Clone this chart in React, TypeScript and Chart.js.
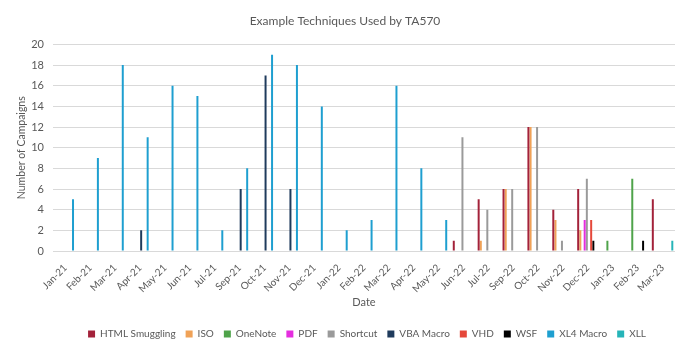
import React, { useEffect, useRef } from "react";
import { Chart, registerables } from "chart.js";

Chart.register(...registerables);

const categories = ["Jan-21","Feb-21","Mar-21","Apr-21","May-21","Jun-21","Jul-21","Sep-21","Oct-21","Nov-21","Dec-21","Jan-22","Feb-22","Mar-22","Apr-22","May-22","Jun-22","Jul-22","Sep-22","Oct-22","Nov-22","Dec-22","Jan-23","Feb-23","Mar-23"];

const N = null;
const htmlSmuggling = [N,N,N,N,N,N,N,N,N,N,N,N,N,N,N,N,1,5,6,12,4,6,N,N,5];
const iso =           [N,N,N,N,N,N,N,N,N,N,N,N,N,N,N,N,N,1,6,12,3,2,N,N,N];
const oneNote =       [N,N,N,N,N,N,N,N,N,N,N,N,N,N,N,N,N,N,N,N,N,N,1,7,N];
const pdf =           [N,N,N,N,N,N,N,N,N,N,N,N,N,N,N,N,N,N,N,N,N,3,N,N,N];
const shortcut =      [N,N,N,N,N,N,N,N,N,N,N,N,N,N,N,N,11,4,6,12,1,7,N,N,N];
const vbaMacro =      [N,N,N,2,N,N,N,6,17,6,N,N,N,N,N,N,N,N,N,N,N,N,N,N,N];
const vhd =           [N,N,N,N,N,N,N,N,N,N,N,N,N,N,N,N,N,N,N,N,N,3,N,N,N];
const wsf =           [N,N,N,N,N,N,N,N,N,N,N,N,N,N,N,N,N,N,N,N,N,1,N,1,N];
const xl4Macro =      [5,9,18,11,16,15,2,8,19,18,14,2,3,16,8,3,N,N,N,N,N,N,N,N,N];
const xll =           [N,N,N,N,N,N,N,N,N,N,N,N,N,N,N,N,N,N,N,N,N,N,N,N,1];

const seriesNames = ["HTML Smuggling","ISO","OneNote","PDF","Shortcut","VBA Macro","VHD","WSF","XL4 Macro","XLL"];
const seriesData = [htmlSmuggling, iso, oneNote, pdf, shortcut, vbaMacro, vhd, wsf, xl4Macro, xll];
const seriesColors = ["#A3223A","#F0A257","#4FA34A","#E52EDF","#9A9A9A","#1F3B5C","#E5483A","#000000","#1E9FD0","#26B4B8"];

const yTicks = [0,2,4,6,8,10,12,14,16,18,20];

const FONT = "Lato, 'Open Sans', sans-serif";
const TXT = "#595959";

const legendShift = {
  id: "legendShift",
  afterLayout(chart: any) {
    if (chart.legend) {
      chart.legend.left += 22;
      chart.legend.right += 22;
    }
  },
};

export default function App() {
  const ref = useRef<HTMLCanvasElement | null>(null);
  useEffect(() => {
    document.body.style.margin = "0";
    const ctx = ref.current!.getContext("2d")!;
    const chart = new Chart(ctx, {
      type: "bar",
      data: {
        labels: categories,
        datasets: seriesNames.map((name, i) => ({
          label: name,
          data: seriesData[i],
          backgroundColor: seriesColors[i],
          borderWidth: 0,
          categoryPercentage: 0.87,
          barPercentage: 0.92,
        })),
      },
      plugins: [legendShift],
      options: {
        responsive: false,
        animation: false,
        layout: { padding: { left: 15, right: 15, top: 7, bottom: 7 } },
        plugins: {
          title: {
            display: true,
            text: "Example Techniques Used by TA570",
            color: TXT,
            font: { family: FONT, size: 12, weight: "normal" },
            padding: { top: 7, bottom: 16 },
          },
          legend: {
            position: "bottom",
            labels: {
              boxWidth: 7,
              boxHeight: 7,
              color: TXT,
              font: { family: FONT, size: 10 },
              padding: 10,
            },
          },
          tooltip: { enabled: false },
        },
        scales: {
          x: {
            grid: { display: false },
            border: { display: false },
            afterFit: (s: any) => {
              s.height = 68;
            },
            ticks: {
              color: TXT,
              font: { family: FONT, size: 10 },
              minRotation: 45,
              maxRotation: 45,
              autoSkip: false,
              padding: 3,
            },
            title: {
              display: true,
              text: "Date",
              color: TXT,
              font: { family: FONT, size: 11 },
              padding: { top: 0, bottom: 10 },
            },
          },
          y: {
            min: 0,
            max: 20,
            afterBuildTicks: (s: any) => {
              s.ticks = yTicks.map((v) => ({ value: v }));
            },
            afterFit: (s: any) => {
              s.width = 38;
            },
            grid: { color: "#D9D9D9", drawTicks: false },
            border: { display: false },
            ticks: {
              color: TXT,
              font: { family: FONT, size: 11 },
              padding: 9,
            },
            title: {
              display: true,
              text: "Number of Campaigns",
              color: TXT,
              font: { family: FONT, size: 10.5 },
              padding: { top: 0, bottom: 2 },
            },
          },
        },
      },
    });
    return () => chart.destroy();
  }, []);
  return (
    <div style={{ width: 690, height: 356, background: "#fff" }}>
      <canvas ref={ref} width={690} height={356} />
    </div>
  );
}
